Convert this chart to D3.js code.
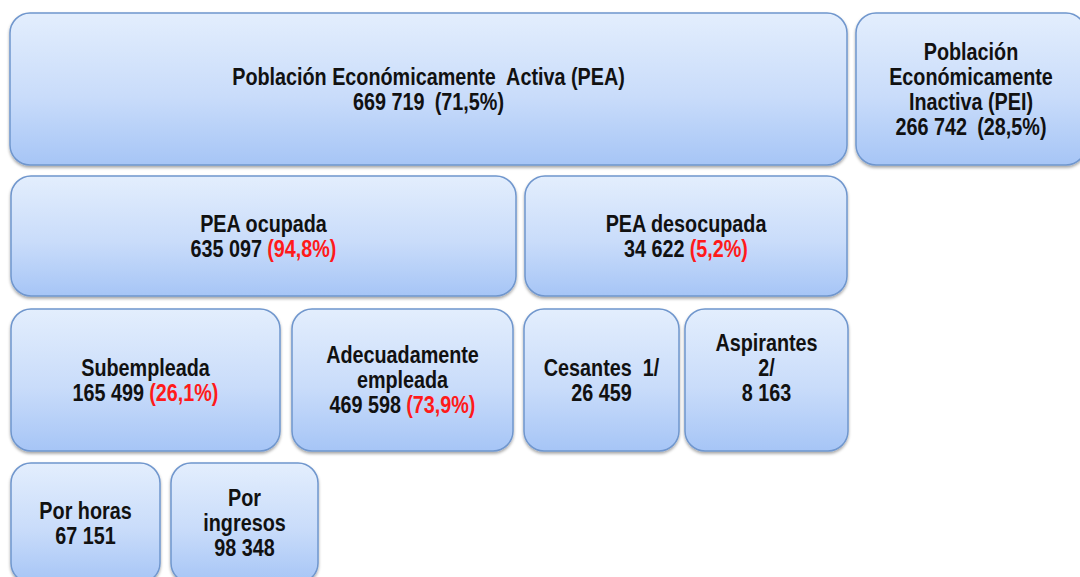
<!DOCTYPE html>
<html>
<head>
<meta charset="utf-8">
<script src="https://cdn.jsdelivr.net/npm/d3@7"></script>
<style>
  body { margin: 0; background: #fff; overflow: hidden; }
  text { font-family: "Liberation Sans", Arial, sans-serif; font-weight: bold; }
</style>
</head>
<body>
<div id="chart"></div>
<script>
var svgWidth = 1080;
var svgHeight = 577;

// data
var names = [
  ["Población Económicamente  Activa (PEA)"],
  ["Población", "Económicamente", "Inactiva (PEI)"],
  ["PEA ocupada"],
  ["PEA desocupada"],
  ["Subempleada"],
  ["Adecuadamente", "empleada"],
  ["Cesantes  1/"],
  ["Aspirantes", "2/"],
  ["Por horas"],
  ["Por", "ingresos"]
];
var values = [669719, 266742, 635097, 34622, 165499, 469598, 26459, 8163, 67151, 98348];
var shares = [71.5, 28.5, 94.8, 5.2, 26.1, 73.9, null, null, null, null];
var redShare = [false, false, true, true, true, true, false, false, false, false];
// empty paragraphs left under the text in the original boxes
var trailingBlank = [0, 0, 0, 0, 0, 0, 0, 1, 0, 0];

// layout: row and horizontal extent of each box (grid units)
var rows = [0, 0, 1, 1, 2, 2, 2, 2, 3, 3];
var x0 = [10, 856, 11, 525, 11, 292, 524, 685, 11, 171];
var x1 = [847, 1086, 516, 847, 280, 513, 679, 848, 160, 318];
var rowTop = [13, 176, 309, 463];
var rowBottom = [165, 296, 451, 583];

var xScale = d3.scaleLinear().domain([0, svgWidth]).range([0, svgWidth]);
var yTop = d3.scaleOrdinal().domain(d3.range(4)).range(rowTop);
var yBottom = d3.scaleOrdinal().domain(d3.range(4)).range(rowBottom);

var locale = d3.formatLocale({ decimal: ",", thousands: " ", grouping: [3], currency: ["", ""] });
var fmtNum = locale.format(",d");
var fmtPct = locale.format(".1f");

var svg = d3.select("#chart")
  .append("svg")
  .attr("width", svgWidth)
  .attr("height", svgHeight);

var defs = svg.append("defs");
var grad = defs.append("linearGradient")
  .attr("id", "boxFill")
  .attr("x1", 0).attr("y1", 0).attr("x2", 0).attr("y2", 1);
grad.append("stop").attr("offset", "0%").attr("stop-color", "#e3eefd");
grad.append("stop").attr("offset", "55%").attr("stop-color", "#c9dcfa");
grad.append("stop").attr("offset", "100%").attr("stop-color", "#a6c5f6");

var shadow = defs.append("filter").attr("id", "shadow")
  .attr("x", "-5%").attr("y", "-5%").attr("width", "110%").attr("height", "120%");
shadow.append("feDropShadow")
  .attr("dx", 0).attr("dy", 2).attr("stdDeviation", 1.5)
  .attr("flood-color", "#000").attr("flood-opacity", 0.35);

var boxes = names.map(function(n, i) {
  return {
    lines: n, value: values[i], share: shares[i], red: redShare[i], blank: trailingBlank[i],
    x: xScale(x0[i]), w: xScale(x1[i]) - xScale(x0[i]),
    y: yTop(rows[i]), h: yBottom(rows[i]) - yTop(rows[i])
  };
});

var lineHeight = 25;
var fontSize = 23;

var node = svg.selectAll("g.box")
  .data(boxes)
  .enter().append("g")
  .attr("class", "box");

node.append("rect")
  .attr("x", d => d.x)
  .attr("y", d => d.y)
  .attr("width", d => d.w)
  .attr("height", d => d.h)
  .attr("rx", 20)
  .attr("ry", 20)
  .attr("fill", "url(#boxFill)")
  .attr("stroke", "#6f96cd")
  .attr("stroke-width", 1.5)
  .attr("filter", "url(#shadow)");

node.each(function(d) {
  var nLines = d.lines.length + 1 + d.blank;
  var cx = d.x + d.w / 2;
  var cy = d.y + d.h / 2;
  var g = d3.select(this).append("g")
    .attr("transform", `translate(${cx}, ${cy}) scale(0.86, 1)`);
  var text = g.append("text")
    .attr("text-anchor", "middle")
    .style("font-size", fontSize + "px")
    .attr("fill", "#111");
  var first = -(nLines - 1) / 2 * lineHeight;
  d.lines.forEach(function(l, k) {
    text.append("tspan")
      .attr("x", 0)
      .attr("y", first + k * lineHeight)
      .attr("dy", "0.35em")
      .attr("xml:space", "preserve")
      .style("white-space", "pre")
      .text(l);
  });
  text.append("tspan")
    .attr("x", 0)
    .attr("y", first + d.lines.length * lineHeight)
    .attr("dy", "0.35em")
    .text(fmtNum(d.value));
  if (d.share != null) {
    text.append("tspan")
      .attr("dx", d.red ? 6 : 12)
      .attr("fill", d.red ? "#ff1a1a" : "#111")
      .text("(" + fmtPct(d.share) + "%)");
  }
});
</script>
</body>
</html>
